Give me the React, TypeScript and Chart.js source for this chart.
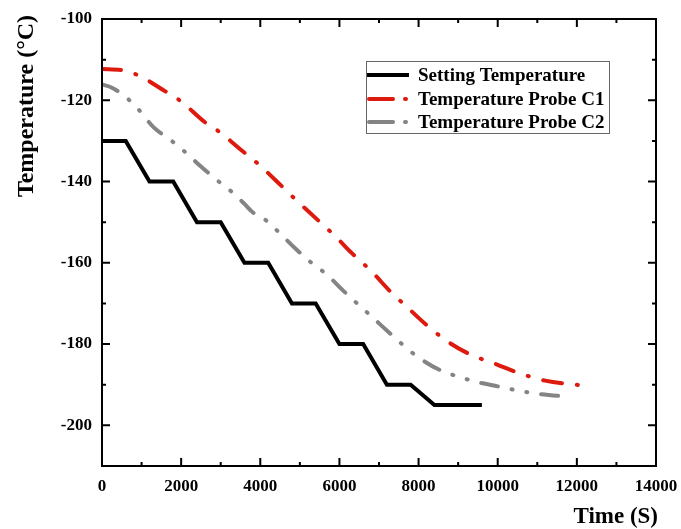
import React, { useEffect, useRef } from "react";
import { Chart, registerables } from "chart.js";

Chart.register(...registerables);

const settingX = [0, 600, 1200, 1800, 2400, 3000, 3600, 4200, 4800, 5400, 6000, 6600, 7200, 7800, 8400, 9600];
const settingY = [-130, -130, -140, -140, -150, -150, -160, -160, -170, -170, -180, -180, -190, -190, -195, -195];

const c1X = [0, 500, 900, 1600, 2000, 2600, 3000, 3500, 4000, 4400, 4900, 5400, 5900, 6300, 6800, 7300, 7700, 8200, 8800, 9300, 10000, 10500, 11200, 12150];
const c1Y = [-112.3, -112.6, -113.8, -117.8, -120.3, -125.4, -128, -132.1, -136.1, -139.8, -144.5, -149, -153.5, -157.5, -162, -167.2, -170.8, -175.3, -179.8, -182.5, -185.1, -187, -189, -190.2];

const c2X = [0, 250, 600, 900, 1300, 1750, 2050, 2500, 2950, 3300, 3600, 3800, 4150, 4450, 4900, 5330, 5670, 6100, 6800, 7350, 7700, 8000, 8500, 9100, 9500, 10000, 10600, 11050, 11870];
const c2Y = [-116.1, -116.9, -119.2, -122, -126.6, -129.9, -132.3, -136.3, -140, -142.7, -145.5, -147.5, -149.6, -152.3, -156.6, -160.3, -162.8, -166.9, -173.1, -178, -181, -183.3, -186.2, -188.3, -189.4, -190.4, -191.6, -192.3, -193];

const xTicks = [0, 2000, 4000, 6000, 8000, 10000, 12000, 14000];
const xMinorTicks = [1000, 3000, 5000, 7000, 9000, 11000, 13000];
const yTicks = [-200, -180, -160, -140, -120, -100];
const yMinorTicks = [-210, -190, -170, -150, -130, -110];

const seriesNames = ["Setting Temperature", "Temperature Probe C1", "Temperature Probe C2"];
const xTitle = "Time (S)";
const yTitle = "Temperature (°C)";

const RED = "rgb(222,26,14)";
const GRAY = "rgb(132,132,132)";
const LW = 4;
// round caps: visible dash = dash + LW, visible gap = gap - LW
const RED_DASH = [19, 15, 1, 15];
const GRAY_DASH = [17, 14, 1, 14, 1, 14];
const SERIF = "'Liberation Serif', 'Times New Roman', serif";

const framePlugin = {
  id: "frame",
  afterDraw(chart: any) {
    const ctx = chart.ctx;
    const { left, right, top, bottom } = chart.chartArea;
    const xs = chart.scales.x;
    const ys = chart.scales.y;
    ctx.save();
    ctx.strokeStyle = "#000";
    ctx.lineWidth = 2;
    ctx.strokeRect(left, top, right - left, bottom - top);
    const major = 8;
    const minor = 4;
    ctx.beginPath();
    xTicks.forEach((v) => {
      const px = xs.getPixelForValue(v);
      ctx.moveTo(px, bottom); ctx.lineTo(px, bottom - major);
      ctx.moveTo(px, top); ctx.lineTo(px, top + major);
    });
    xMinorTicks.forEach((v) => {
      const px = xs.getPixelForValue(v);
      ctx.moveTo(px, bottom); ctx.lineTo(px, bottom - minor);
      ctx.moveTo(px, top); ctx.lineTo(px, top + minor);
    });
    yTicks.forEach((v) => {
      const py = ys.getPixelForValue(v);
      ctx.moveTo(left, py); ctx.lineTo(left + major, py);
      ctx.moveTo(right, py); ctx.lineTo(right - major, py);
    });
    yMinorTicks.forEach((v) => {
      const py = ys.getPixelForValue(v);
      ctx.moveTo(left, py); ctx.lineTo(left + minor, py);
      ctx.moveTo(right, py); ctx.lineTo(right - minor, py);
    });
    ctx.stroke();

    // titles
    ctx.fillStyle = "#000";
    ctx.font = "bold 23px " + SERIF;
    ctx.textAlign = "right";
    ctx.textBaseline = "middle";
    ctx.fillText(xTitle, 658, 517);
    ctx.save();
    ctx.translate(27, 106);
    ctx.rotate(-Math.PI / 2);
    ctx.textAlign = "center";
    ctx.font = "bold 24px " + SERIF;
    ctx.fillText(yTitle, 0, 0);
    ctx.restore();

    // legend
    const bx = 366, by = 61, bw = 243, bh = 72;
    ctx.lineWidth = 1;
    ctx.strokeStyle = "#666";
    ctx.strokeRect(bx + 0.5, by + 0.5, bw, bh);
    const rows = [by + 14, by + 38, by + 61];
    const colors = ["#000", RED, GRAY];
    rows.forEach((ry, i) => {
      ctx.save();
      ctx.strokeStyle = colors[i];
      ctx.lineWidth = LW;
      ctx.beginPath();
      if (i === 0) {
        ctx.lineCap = "butt";
        ctx.moveTo(bx + 1, ry);
        ctx.lineTo(bx + 43, ry);
      } else {
        ctx.lineCap = "round";
        ctx.moveTo(bx + 3, ry);
        ctx.lineTo(bx + 27, ry);
        ctx.moveTo(bx + 39, ry);
        ctx.lineTo(bx + 40, ry);
      }
      ctx.stroke();
      ctx.restore();
      ctx.fillStyle = "#000";
      ctx.font = "bold 19px " + SERIF;
      ctx.textAlign = "left";
      ctx.textBaseline = "middle";
      ctx.fillText(seriesNames[i], bx + 52, ry + 1);
    });
    ctx.restore();
  },
};

export default function App() {
  const ref = useRef<HTMLCanvasElement>(null);
  useEffect(() => {
    if (!ref.current) return;
    const chart = new Chart(ref.current, {
      type: "line",
      data: {
        datasets: [
          {
            label: seriesNames[0],
            data: settingX.map((x, i) => ({ x, y: settingY[i] })),
            borderColor: "#000",
            borderWidth: LW,
            pointRadius: 0,
            tension: 0,
          },
          {
            label: seriesNames[1],
            data: c1X.map((x, i) => ({ x, y: c1Y[i] })),
            borderColor: RED,
            borderWidth: LW,
            borderDash: RED_DASH,
            borderCapStyle: "round",
            pointRadius: 0,
            cubicInterpolationMode: "monotone",
          },
          {
            label: seriesNames[2],
            data: c2X.map((x, i) => ({ x, y: c2Y[i] })),
            borderColor: GRAY,
            borderWidth: LW,
            borderDash: GRAY_DASH,
            borderCapStyle: "round",
            pointRadius: 0,
            cubicInterpolationMode: "monotone",
          },
        ],
      },
      options: {
        responsive: false,
        animation: false,
        layout: { padding: { top: 19, right: 25, left: 0, bottom: 0 } },
        plugins: { legend: { display: false }, tooltip: { enabled: false } },
        scales: {
          x: {
            type: "linear",
            min: 0,
            max: 14000,
            grid: { display: false, drawTicks: false },
            border: { display: false },
            afterBuildTicks: (s: any) => { s.ticks = xTicks.map((v) => ({ value: v })); },
            afterFit: (s: any) => { s.height = 63; s.paddingLeft = 0; s.paddingRight = 0; },
            ticks: {
              padding: 10,
              color: "#000",
              maxRotation: 0,
              autoSkip: false,
              font: { family: SERIF, size: 17, weight: "bold" },
              callback: (v: any) => String(v),
            },
          },
          y: {
            type: "linear",
            min: -210,
            max: -100,
            grid: { display: false, drawTicks: false },
            border: { display: false },
            afterBuildTicks: (s: any) => { s.ticks = yTicks.map((v) => ({ value: v })); },
            afterFit: (s: any) => { s.width = 102; s.paddingTop = 0; s.paddingBottom = 0; },
            ticks: {
              padding: 10,
              color: "#000",
              autoSkip: false,
              font: { family: SERIF, size: 17, weight: "bold" },
              callback: (v: any) => String(v),
            },
          },
        },
      },
      plugins: [framePlugin],
    } as any);
    return () => chart.destroy();
  }, []);
  return (
    <canvas
      ref={ref}
      width={681}
      height={529}
      style={{ display: "block", position: "absolute", left: 0, top: 0 }}
    />
  );
}
